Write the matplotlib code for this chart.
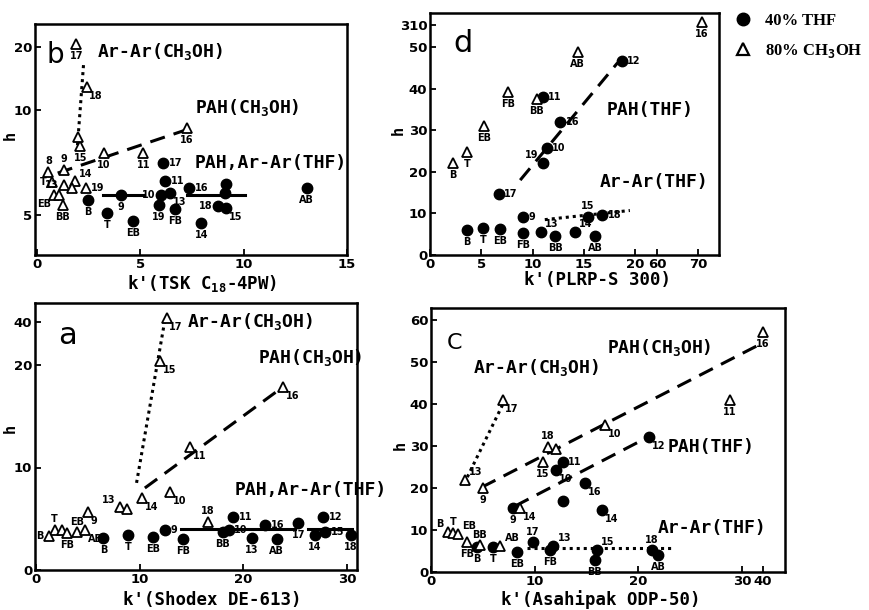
import numpy as np
import matplotlib
matplotlib.use("Agg")
import matplotlib.pyplot as plt
from matplotlib.lines import Line2D

plt.rcParams['mathtext.fontset'] = 'custom'
plt.rcParams['mathtext.rm'] = 'DejaVu Sans Mono:bold'
plt.rcParams['mathtext.default'] = 'rm'

# ---------------- data ----------------
# Panel b : TSK C18-4PW
b_thf_lab = ['17', '11', '16', '13', '10', '19', 'FB', '9', 'B', 'T', 'EB', '14', '18', '15', '', '', 'AB']
b_thf_x = [6.1, 6.2, 7.35, 6.45, 6.0, 5.9, 6.7, 4.05, 2.45, 3.4, 4.65, 7.95, 8.75, 9.15, 9.15, 9.1, 13.05]
b_thf_y = [7.5, 6.6, 6.3, 6.05, 5.95, 5.5, 5.3, 5.95, 5.7, 5.1, 4.7, 4.6, 5.45, 5.35, 6.5, 6.05, 6.3]
b_meoh_lab = ['17', '18', '15', '', '16', '10', '11', '9', '8', 'T', '13', '14', '', '19', 'EB', '', 'BB']
b_meoh_x = [1.9, 2.4, 2.1, 2.0, 7.25, 3.25, 5.15, 1.3, 0.55, 0.73, 1.3, 1.85, 1.7, 2.35, 0.8, 1.05, 1.25]
b_meoh_y = [21.0, 11.1, 8.3, 8.7, 9.15, 7.95, 7.95, 7.15, 7.05, 6.57, 6.45, 6.6, 6.3, 6.3, 5.95, 5.95, 5.5]

# Panel d : PLRP-S 300
d_thf_lab = ['B', 'T', 'EB', 'FB', '13', 'BB', '14', 'AB', '9', '15', '18', '17', '19', '10', '16', '11', '12']
d_thf_x = [3.6, 5.2, 6.8, 9.1, 10.8, 12.2, 14.1, 16.1, 9.1, 15.4, 16.8, 6.7, 11.0, 11.4, 12.7, 11.0, 18.7]
d_thf_y = [6.0, 6.5, 6.2, 5.3, 5.5, 4.6, 5.5, 4.6, 9.2, 9.2, 9.6, 14.7, 22.1, 25.7, 32.0, 38.0, 46.6]
d_meoh_lab = ['B', 'T', 'EB', 'FB', 'BB', 'AB', '16']
d_meoh_x = [2.2, 3.6, 5.3, 7.6, 10.4, 14.4, 71.0]
d_meoh_y = [22.0, 24.8, 31.0, 39.2, 37.5, 48.8, 340.0]

# Panel a : Shodex DE-613
a_thf_lab = ['B', 'T', 'EB', '9', 'FB', '11', 'BB', '10', '16', '13', 'AB', '17', '14', '12', '15', '18']
a_thf_x = [6.5, 8.9, 11.3, 12.4, 14.2, 19.0, 18.0, 18.6, 22.1, 20.8, 23.2, 25.3, 26.9, 27.7, 27.9, 30.4]
a_thf_y = [3.1, 3.4, 3.2, 3.9, 3.0, 5.2, 3.7, 3.9, 4.4, 3.1, 3.0, 4.6, 3.4, 5.2, 3.7, 3.4]
a_meoh_lab = ['17', '15', '16', '11', '10', '14', '13', '', '9', '18', 'T', '', 'FB', 'EB', 'AB', 'B']
a_meoh_x = [12.6, 12.0, 23.8, 14.9, 12.9, 10.2, 8.1, 8.8, 5.0, 16.6, 1.8, 2.5, 3.0, 4.0, 4.7, 1.3]
a_meoh_y = [42.0, 22.0, 17.9, 12.0, 7.6, 7.0, 6.1, 6.0, 5.7, 4.7, 3.9, 3.9, 3.6, 3.7, 3.9, 3.3]

# Panel c : Asahipak ODP-50
c_thf_lab = ['12', '11', '10', '', '16', '14', '9', 'B', 'T', 'EB', '17', '13', 'FB', '15', 'BB', '18', 'AB']
c_thf_x = [21.0, 12.7, 12.1, 12.7, 14.9, 16.5, 7.9, 4.4, 6.0, 8.3, 9.8, 11.8, 11.5, 16.0, 15.8, 21.3, 21.9]
c_thf_y = [32.1, 26.2, 24.3, 16.9, 21.2, 14.8, 15.2, 6.0, 5.9, 4.8, 7.1, 6.2, 5.2, 5.2, 2.9, 5.2, 4.0]
c_meoh_lab = ['16', '11', '17', '10', '18', '', '15', '13', '9', '14', 'B', 'T', 'EB', 'FB', 'BB', 'AB']
c_meoh_x = [40.0, 28.8, 6.9, 16.8, 11.3, 12.1, 10.8, 3.3, 5.0, 8.6, 1.6, 2.1, 2.6, 3.5, 4.7, 6.7]
c_meoh_y = [57.1, 41.0, 41.0, 35.0, 29.8, 29.2, 26.2, 21.9, 20.0, 15.2, 9.6, 9.3, 9.0, 7.1, 6.4, 6.3]

# trend lines (k', h) end points
b_lines = {'solid1': ([3.2, 5.15], [5.95, 5.95]), 'solid2': ([7.25, 10.05], [5.95, 5.95]),
           'dash': ([1.0, 7.2], [7.0, 9.05]), 'dot': ([2.25, 1.95], [13.1, 8.2])}
d_lines = {'dash': ([8.8, 18.3], [18.0, 46.2]), 'dot': ([11.2, 19.5], [8.5, 10.7])}
a_lines = {'solid1': ([14.0, 20.0], [4.0, 4.0]), 'solid2': ([20.2, 25.0], [4.0, 4.0]),
           'solid3': ([26.2, 30.5], [4.0, 4.0]),
           'dot': ([9.7, 12.4], [8.5, 40.0]), 'dash': ([10.5, 23.2], [8.0, 17.4])}
c_lines = {'dot': ([3.5, 6.9], [22.6, 39.8]), 'dash': ([4.9, 37.6], [20.2, 54.0]),
           'dash2': ([8.1, 20.9], [15.7, 32.1]), 'dot2': ([9.3, 23.2], [5.7, 5.7])}

# tick values
b_xt, b_yt = [0, 5, 10, 15], [5, 10, 20]
d_xt, d_yt = [0, 5, 10, 15, 20, 60, 70], [0, 10, 20, 30, 40, 50, 310]
a_xt, a_yt = [0, 10, 20, 30], [0, 10, 20, 40]
c_xt, c_yt = [0, 10, 20, 30, 40], [0, 10, 20, 30, 40, 50, 60]

# ---------------- label placements (style only) ----------------
b_thf_pos = ['r', 'r', 'r', 'br', 'l', 'b', 'b', 'b', 'b', 'b', 'b', 'b', 'l', 'br', 'n', 'n', 'b']
b_meoh_pos = ['b', 'br', 'b', 'n', 'b', 'b', 'b', 't', 't', 'l', 'l', 'tr', 'n', 'r', 'bl', 'n', 'b']
d_thf_pos = ['b', 'b', 'b', 'b', 'tr', 'b', 'tr', 'b', 'r', 't', 'r', 'r', 'tl', 'r', 'r', 'r', 'r']
d_meoh_pos = ['b'] * 7
a_thf_pos = ['b', 'b', 'b', 'r', 'b', 'r', 'b', 'r', 'r', 'b', 'b', 'b', 'b', 'r', 'r', 'b']
a_meoh_pos = ['br', 'br', 'br', 'br', 'br', 'br', 'tl', 'n', 'br', 't', 't', 'n', 'b', 't', 'br', 'l']
c_thf_pos = ['br', 'r', 'br', 'n', 'br', 'br', 'b', 'b', 'b', 'b', 't', 'tr', 'b', 'tr', 'b', 't', 'b']
c_meoh_pos = ['b', 'b', 'br', 'br', 't', 'n', 'b', 'tr', 'b', 'br', 'tl', 't', 'tr', 'b', 't', 'tr']

OFF = {'r': ((4, 0), 'left', 'center'), 'l': ((-4, 0), 'right', 'center'),
       't': ((0, 4), 'center', 'bottom'), 'b': ((0, -5), 'center', 'top'),
       'br': ((2, -3), 'left', 'top'), 'tr': ((3, 2), 'left', 'bottom'),
       'tl': ((-3, 2), 'right', 'bottom'), 'bl': ((-2, -3), 'right', 'top')}

W, H = 869, 610
fig = plt.figure(figsize=(W / 100, H / 100), dpi=100)

MONO = 'DejaVu Sans Mono'


def pw(d, p):
    d = np.asarray(d, float)
    p = np.asarray(p, float)

    def f(v, d=d, p=p):
        v = np.asarray(v, float)
        out = np.interp(v, d, p)
        s0 = (p[1] - p[0]) / (d[1] - d[0])
        s1 = (p[-1] - p[-2]) / (d[-1] - d[-2])
        out = np.where(v < d[0], p[0] + (v - d[0]) * s0, out)
        out = np.where(v > d[-1], p[-1] + (v - d[-1]) * s1, out)
        return out
    return f


def make_axes(L, R, T, B, xd, xp, yd, yp):
    ax = fig.add_axes([L / W, 1 - B / H, (R - L) / W, (B - T) / H])
    fx, ix = pw(xd, xp), pw(xp, xd)
    nyp = [-v for v in yp]
    fy, iy = pw(yd, nyp), pw(nyp, yd)
    ax.set_xscale('function', functions=(fx, ix))
    ax.set_yscale('function', functions=(fy, iy))
    ax.set_xlim(float(ix(L)), float(ix(R)))
    ax.set_ylim(float(iy(-B)), float(iy(-T)))
    for s in ax.spines.values():
        s.set_linewidth(1.8)
    ax.tick_params(direction='in', length=4, width=1.3, labelsize=9.5, pad=2)
    return ax


def style_ticks(ax, xt, yt):
    ax.set_xticks(xt)
    ax.set_yticks(yt)
    ax.set_xticklabels([str(v) for v in xt], fontweight='bold')
    ax.set_yticklabels([str(v) for v in yt], fontweight='bold')
    ax.minorticks_off()


def plot_pts(ax, xs, ys, labs, pos, filled):
    if filled:
        ax.plot(xs, ys, 'o', color='black', ms=7.5, ls='none', zorder=4, clip_on=False)
    else:
        ax.plot(xs, ys, '^', mfc='white', mec='black', mew=1.3, ms=7.5, ls='none',
                zorder=5, clip_on=False)
    for x, y, lab, p in zip(xs, ys, labs, pos):
        if not lab or p == 'n':
            continue
        off, ha, va = OFF[p]
        ax.annotate(lab, (x, y), xytext=off, textcoords='offset points', ha=ha, va=va,
                    fontsize=7, fontweight='bold', zorder=6)


def draw_lines(ax, lines):
    for k, (xs, ys) in lines.items():
        if k.startswith('solid'):
            ax.plot(xs, ys, '-', color='black', lw=2.2, zorder=3)
        elif k.startswith('dash'):
            ax.plot(xs, ys, color='black', lw=2.2, dashes=(5, 3), zorder=3)
        else:
            ax.plot(xs, ys, color='black', lw=2.2, dashes=(1, 1.3), zorder=3)


def ftext(x, y, s, size=13, ha='left', family=MONO, weight='bold', rot=0):
    fig.text(x / W, 1 - y / H, s, ha=ha, va='center', fontsize=size,
             family=family, fontweight=weight, rotation=rot)


# ---------------- panel b ----------------
axb = make_axes(35, 347, 24, 255, [0, 15], [37, 347], [3.1, 12, 20, 29], [255, 68, 47, 24])
style_ticks(axb, b_xt, b_yt)
draw_lines(axb, b_lines)
plot_pts(axb, b_thf_x, b_thf_y, b_thf_lab, b_thf_pos, True)
plot_pts(axb, b_meoh_x, b_meoh_y, b_meoh_lab, b_meoh_pos, False)
ftext(55, 55, 'b', size=20, family='DejaVu Sans', weight='normal', ha='center')
ftext(97, 52, 'Ar-Ar(CH$_3$OH)')
ftext(195, 108, 'PAH(CH$_3$OH)')
ftext(195, 163, 'PAH,Ar-Ar(THF)')
ftext(202, 283, "k'(TSK C$_{18}$-4PW)", size=12.5, ha='center')
ftext(10, 135, 'h', size=11, ha='center', rot=90)

# ---------------- panel d ----------------
axd = make_axes(430, 719, 13, 255, [0, 20, 60, 75.1], [430, 635, 657, 719],
                [0, 50, 310, 452], [255, 47, 25, 13])
style_ticks(axd, d_xt, d_yt)
draw_lines(axd, d_lines)
plot_pts(axd, d_thf_x, d_thf_y, d_thf_lab, d_thf_pos, True)
plot_pts(axd, d_meoh_x, d_meoh_y, d_meoh_lab, d_meoh_pos, False)
ftext(463, 43, 'd', size=22, family='DejaVu Sans', weight='normal', ha='center')
ftext(607, 110, 'PAH(THF)')
ftext(600, 182, 'Ar-Ar(THF)')
ftext(597, 280, "k'(PLRP-S 300)", size=12.5, ha='center')
ftext(398, 130, 'h', size=11, ha='center', rot=90)

# ---------------- panel a ----------------
axa = make_axes(35, 357, 303, 570, [0, 30], [36, 347], [0, 20, 40, 48.8], [570, 365, 322, 303])
style_ticks(axa, a_xt, a_yt)
draw_lines(axa, a_lines)
plot_pts(axa, a_thf_x, a_thf_y, a_thf_lab, a_thf_pos, True)
plot_pts(axa, a_meoh_x, a_meoh_y, a_meoh_lab, a_meoh_pos, False)
ftext(68, 335, 'a', size=22, family='DejaVu Sans', weight='normal', ha='center')
ftext(187, 322, 'Ar-Ar(CH$_3$OH)')
ftext(258, 358, 'PAH(CH$_3$OH)')
ftext(235, 490, 'PAH,Ar-Ar(THF)')
ftext(212, 600, "k'(Shodex DE-613)", size=12.5, ha='center')
ftext(10, 428, 'h', size=11, ha='center', rot=90)

# ---------------- panel c ----------------
axc = make_axes(431, 785, 308, 572, [0, 30, 40, 50], [431, 742, 763, 784],
                [0, 62.9], [572, 308])
style_ticks(axc, c_xt, c_yt)
draw_lines(axc, c_lines)
plot_pts(axc, c_thf_x, c_thf_y, c_thf_lab, c_thf_pos, True)
plot_pts(axc, c_meoh_x, c_meoh_y, c_meoh_lab, c_meoh_pos, False)
ftext(455, 343, 'C', size=16, family='DejaVu Sans', weight='normal', ha='center')
ftext(607, 348, 'PAH(CH$_3$OH)')
ftext(473, 368, 'Ar-Ar(CH$_3$OH)')
ftext(668, 447, 'PAH(THF)')
ftext(658, 528, 'Ar-Ar(THF)')
ftext(601, 600, "k'(Asahipak ODP-50)", size=12.5, ha='center')
ftext(400, 445, 'h', size=11, ha='center', rot=90)

# ---------------- legend ----------------
handles = [Line2D([], [], marker='o', color='black', ls='none', ms=9),
           Line2D([], [], marker='^', mfc='white', mec='black', mew=1.6, ls='none', ms=9)]
fig.legend(handles, ['40% THF', '80% CH$_3$OH'], loc='upper left',
           bbox_to_anchor=(728 / W, 1 - 6 / H), frameon=False,
           prop={'family': 'Liberation Serif', 'weight': 'bold', 'size': 12},
           handletextpad=0.8, labelspacing=0.8, handlelength=1.0, borderaxespad=0)

fig.savefig('out.png', dpi=100)
